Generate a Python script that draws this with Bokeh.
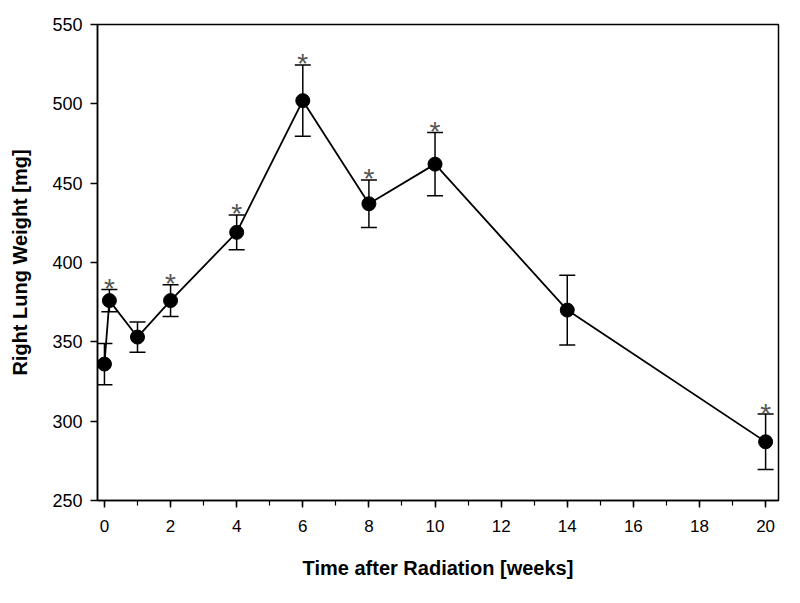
from bokeh.plotting import figure
from bokeh.models import ColumnDataSource, Range1d, FixedTicker
from bokeh.core.properties import value
from bokeh.embed import file_html
from bokeh.resources import INLINE

weeks = [0, 0.15, 1, 2, 4, 6, 8, 10, 14, 20]
weight = [336, 376, 353, 376, 419, 502, 437, 462, 370, 287]
err = [13, 7, 9.5, 10, 11, 22.5, 15, 20, 22, 17.5]
signif = [False, True, False, True, True, True, True, True, False, True]

x_ticks = [0, 2, 4, 6, 8, 10, 12, 14, 16, 18, 20]
y_ticks = [250, 300, 350, 400, 450, 500, 550]

upper = [w + e for w, e in zip(weight, err)]
lower = [w - e for w, e in zip(weight, err)]
src = ColumnDataSource(dict(x=weeks, y=weight, up=upper, lo=lower))
star_src = ColumnDataSource(dict(
    x=[x for x, s in zip(weeks, signif) if s],
    top=[u for u, s in zip(upper, signif) if s],
    t=["*" for s in signif if s],
))

p = figure(width=784, height=587, output_backend="svg", toolbar_location=None,
           x_range=Range1d(-0.21, 20.39), y_range=Range1d(250, 550),
           min_border_left=97, min_border_right=6, min_border_top=24, min_border_bottom=87)

p.xgrid.grid_line_color = None
p.ygrid.grid_line_color = None
p.outline_line_color = "black"
p.outline_line_width = 1.5
p.background_fill_color = "white"

font = "Liberation Sans"
p.xaxis.ticker = FixedTicker(ticks=x_ticks, minor_ticks=list(range(0, 21)))
p.yaxis.ticker = FixedTicker(ticks=y_ticks)
for ax in (p.xaxis[0], p.yaxis[0]):
    ax.axis_line_width = 1.5
    ax.axis_line_color = "black"
    ax.major_tick_in = 0
    ax.major_tick_out = 7
    ax.major_tick_line_width = 1.5
    ax.major_tick_line_color = "black"
    ax.major_label_text_color = "black"
    ax.major_label_text_font = font
    ax.axis_label_text_font = font
    ax.axis_label_text_font_style = "bold"
    ax.axis_label_text_color = "black"
p.yaxis.major_label_text_font_size = "18px"
p.yaxis.axis_label_text_font_size = "20px"
p.xaxis.major_label_text_font_size = "17px"
p.xaxis.axis_label_text_font_size = "20px"

p.xaxis.minor_tick_in = 0
p.xaxis.minor_tick_out = 5
p.xaxis.minor_tick_line_width = 1.2
p.xaxis.minor_tick_line_color = "black"
p.yaxis.minor_tick_line_color = None
p.xaxis.axis_label = "Time after Radiation [weeks]"
p.yaxis.axis_label = "Right Lung Weight [mg]"
p.xaxis.major_label_standoff = 12
p.xaxis.axis_label_standoff = 22
p.yaxis.major_label_standoff = 8
p.yaxis.axis_label_standoff = 18

# error bars
p.segment(x0="x", y0="lo", x1="x", y1="up", source=src, line_color="black", line_width=1.5)
p.scatter(x="x", y="up", source=src, marker="dash", size=16, line_color="black", line_width=1.5)
p.scatter(x="x", y="lo", source=src, marker="dash", size=16, line_color="black", line_width=1.5)

p.line(x="x", y="y", source=src, line_color="black", line_width=1.8)
p.scatter(x="x", y="y", source=src, marker="circle", size=14, fill_color="black", line_color="black")

p.text(x="x", y="top", text="t", source=star_src, text_font=value(font),
       text_font_size="28px", text_color="#555555", text_align="center",
       text_baseline="alphabetic", y_offset=-1)

open("out.html", "w").write(file_html(p, INLINE))
